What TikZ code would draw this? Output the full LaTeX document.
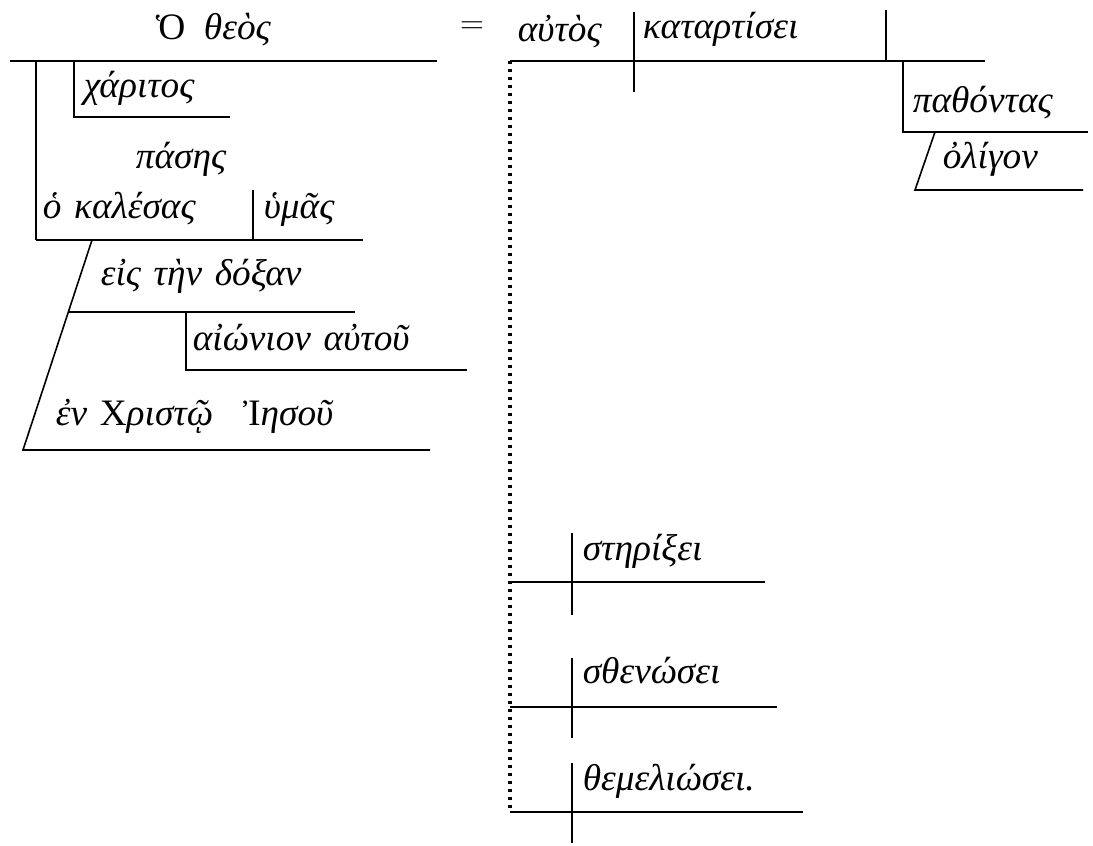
\documentclass[tikz,border=0pt]{standalone}
\usepackage{fontspec}
\setmainfont{Liberation Serif}
\newcommand{\wordfont}{\fontsize{28}{33}\selectfont\itshape\spaceskip 0.34em\relax}
\begin{document}
\begin{tikzpicture}[x=0.75pt, y=-0.75pt, line width=1.2pt,
	word/.style={anchor=base west, inner sep=0pt, font=\wordfont},
	dots/.style={line width=2.3pt, dash pattern=on 2.2pt off 3.8pt}]
	\useasboundingbox (0,0) rectangle (1093,846);

	\draw (10,61) -- (437,61);
	\node[word] (theos) at (155,40) {\textup{Ὁ}\hspace{0.5em}θεὸς};
	\draw (36,61) -- (36,240);

	\draw (74,61) -- (74,117) -- (230,117);
	\node[word] (charitos) at (83,97) {χάριτος};

	\node[word] (pases) at (135,168) {πάσης};

	\draw (36,240) -- (363,240);
	\draw (253,190) -- (253,240);
	\node[word] (kalesas) at (42,218) {ὁ καλέσας};
	\node[word] (humas) at (263,218) {ὑμᾶς};

	\draw (92,240) -- (23,450) -- (430,450);
	\draw (69,312) -- (355,312);
	\node[word] (doxan) at (100,285) {εἰς τὴν δόξαν};

	\draw (186,312) -- (186,370) -- (467,370);
	\node[word] (aionion) at (192,350) {αἰώνιον αὐτοῦ};

	\node[word] (christo) at (55,425) {ἐν \textup{Χ}ριστῷ\hspace{0.8em}\textup{Ἰ}ησοῦ};

	\node[anchor=center, inner sep=0pt, font=\fontsize{30}{34}\selectfont] (eq) at (472,28) {$=$};
	\node[word] (autos) at (517,41) {αὐτὸς};

	\draw (510,61) -- (985,61);
	\draw (634,12) -- (634,92);
	\node[word] (katartisei) at (642,38) {καταρτίσει};
	\draw (886,10) -- (886,61);

	\draw (903,61) -- (903,132) -- (1088,132);
	\node[word] (pathontas) at (912,112) {παθόντας};

	\draw (935,132) -- (915,190) -- (1083,190);
	\node[word] (oligon) at (942,168) {ὀλίγον};

	\draw[dots] (510,61) -- (510,808);

	\draw (510,582) -- (765,582);
	\draw (572,533) -- (572,615);
	\node[word] (sterixei) at (582,560) {στηρίξει};

	\draw (510,707) -- (777,707);
	\draw (572,658) -- (572,738);
	\node[word] (sthenosei) at (582,683) {σθενώσει};

	\draw (510,812) -- (803,812);
	\draw (572,763) -- (572,843);
	\node[word] (themeliosei) at (582,790) {θεμελιώσει.};
\end{tikzpicture}
\end{document}
